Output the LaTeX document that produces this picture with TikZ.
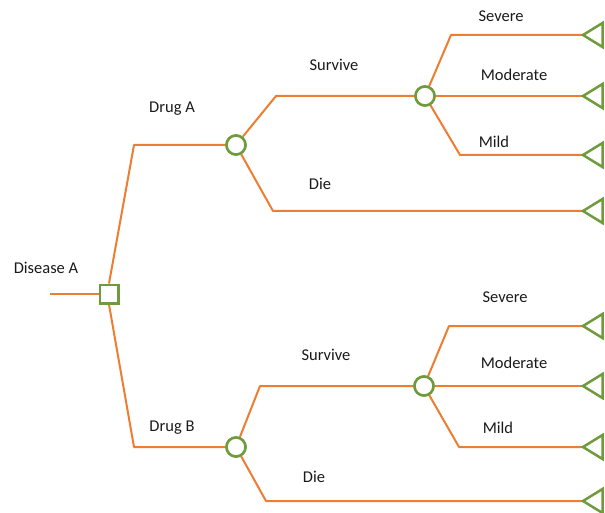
\documentclass[tikz,border=0pt]{standalone}
\usepackage{fontspec}
\setmainfont{Carlito}
\begin{document}
\definecolor{branch}{HTML}{ED7D31}
\definecolor{nodegreen}{HTML}{6F9B3C}
\definecolor{labeltext}{HTML}{1A1A1A}
\begin{tikzpicture}[x=1pt,y=-1pt,
  edge/.style={draw=branch,line width=2pt,line join=round},
  decision/.style={draw=nodegreen,line width=2.5pt,fill=white,minimum size=18.5pt,inner sep=0pt,rectangle},
  chance/.style={draw=nodegreen,line width=2.5pt,fill=white,minimum size=19pt,inner sep=0pt,circle},
  endtri/.style={draw=nodegreen,line width=2.5pt,fill=white,line join=miter},
  lbl/.style={font=\fontsize{16.5}{19}\selectfont,text=labeltext,inner sep=0pt}]
\useasboundingbox (0,0) rectangle (605,513);

% entry line and decision node
\coordinate (start) at (50,294);
\node[decision] (dec) at (109,294) {};

% chance nodes
\node[chance] (ca) at (236,145) {};
\node[chance] (cas) at (425,96) {};
\node[chance] (cb) at (236,447) {};
\node[chance] (cbs) at (424,386) {};

% bends and terminal points
\coordinate (ka) at (134,145);
\coordinate (kb) at (134,447);
\coordinate (kas) at (276,96);
\coordinate (kad) at (273,211);
\coordinate (kbs) at (260,386);
\coordinate (kbd) at (266,501);
\coordinate (kas1) at (451,35);
\coordinate (kas3) at (460,155);
\coordinate (kbs1) at (449,326);
\coordinate (kbs3) at (459,447);

\coordinate (ta1) at (583,35);
\coordinate (ta2) at (583,96);
\coordinate (ta3) at (583,155);
\coordinate (ta4) at (583,211);
\coordinate (tb1) at (583,326);
\coordinate (tb2) at (583,386);
\coordinate (tb3) at (583,447);
\coordinate (tb4) at (583,501);

% branches
\draw[edge] (start) -- (dec.west);
\draw[edge] (dec.north) -- (ka) -- (ca.west);
\draw[edge] (dec.south) -- (kb) -- (cb.west);
\draw[edge] (ca) -- (kas) -- (cas.west);
\draw[edge] (ca) -- (kad) -- (ta4);
\draw[edge] (cb) -- (kbs) -- (cbs.west);
\draw[edge] (cb) -- (kbd) -- (tb4);
\draw[edge] (cas) -- (kas1) -- (ta1);
\draw[edge] (cas.east) -- (ta2);
\draw[edge] (cas) -- (kas3) -- (ta3);
\draw[edge] (cbs) -- (kbs1) -- (tb1);
\draw[edge] (cbs.east) -- (tb2);
\draw[edge] (cbs) -- (kbs3) -- (tb3);

% redraw nodes on top of branch ends
\node[decision] at (dec) {};
\foreach \c in {ca,cas,cb,cbs} \node[chance] at (\c) {};

% terminal triangles
\foreach \t in {ta1,ta2,ta3,ta4,tb1,tb2,tb3,tb4}
  \draw[endtri] (\t) -- ++(19.5,-12) -- ++(0,24) -- cycle;

% labels
\node[lbl] (lroot) at (46,268) {Disease A};
\node[lbl] (ldruga) at (172,109) {Drug A};
\node[lbl] (ldrugb) at (172,428) {Drug B};
\node[lbl] (lsurva) at (334,65) {Survive};
\node[lbl] (ldiea) at (320,184) {Die};
\node[lbl] (lsurvb) at (326,355) {Survive};
\node[lbl] (ldieb) at (314,477) {Die};
\node[lbl] (lsev1) at (501,16) {Severe};
\node[lbl] (lmod1) at (514,75) {Moderate};
\node[lbl] (lmild1) at (494,142) {Mild};
\node[lbl] (lsev2) at (505,297) {Severe};
\node[lbl] (lmod2) at (514,363) {Moderate};
\node[lbl] (lmild2) at (498,428) {Mild};
\end{tikzpicture}
\end{document}
